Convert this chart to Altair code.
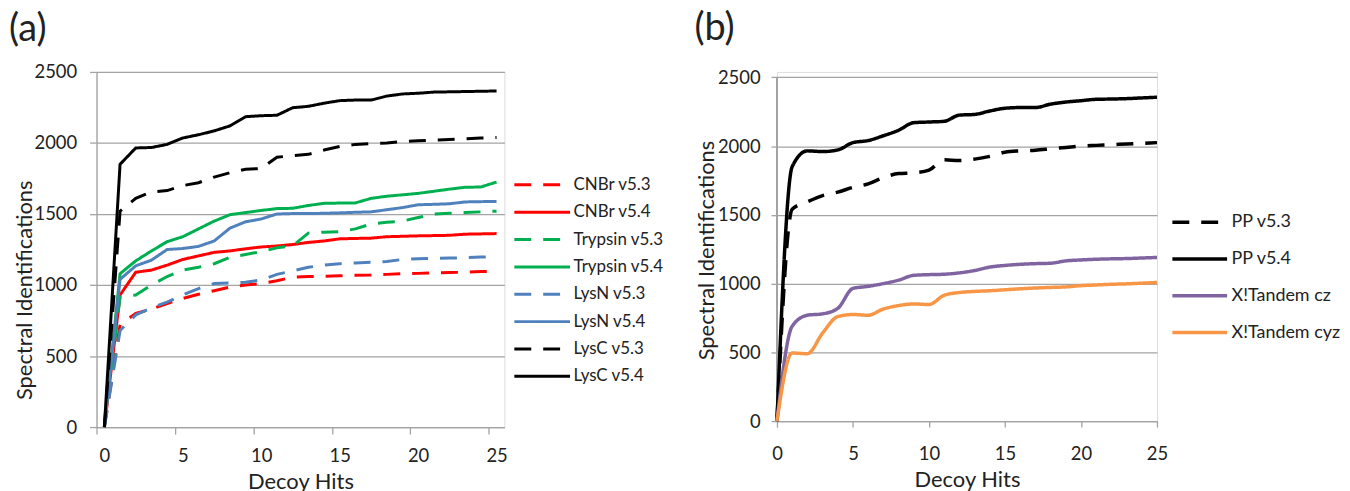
import altair as alt
import pandas as pd

FONT = "Lato"
TXT = "#222222"
GRID = "#a3a3a3"

# ---------------- data ----------------
hits = list(range(26))

series_a = ["CNBr v5.3", "CNBr v5.4", "Trypsin v5.3", "Trypsin v5.4",
            "LysN v5.3", "LysN v5.4", "LysC v5.3", "LysC v5.4"]
colors_a = ["#ff0000", "#ff0000", "#00b050", "#00b050",
            "#4f81bd", "#4f81bd", "#000000", "#000000"]
dash_a = [[17, 12], [1, 0], [17, 12], [1, 0], [17, 12], [1, 0], [17, 12], [1, 0]]

cnbr_53 = [0, 720, 800, 830, 870, 905, 935, 960, 985, 1000, 1010, 1030, 1055, 1060, 1062,
           1065, 1068, 1070, 1075, 1080, 1082, 1085, 1088, 1090, 1095, 1095]
cnbr_54 = [0, 930, 1090, 1105, 1140, 1180, 1205, 1230, 1240, 1255, 1268, 1275, 1285, 1300,
           1310, 1325, 1328, 1330, 1340, 1343, 1346, 1348, 1350, 1358, 1360, 1362]
tryp_53 = [0, 915, 930, 1000, 1060, 1105, 1125, 1150, 1195, 1215, 1235, 1262, 1275, 1365,
           1372, 1375, 1395, 1430, 1442, 1450, 1475, 1500, 1505, 1510, 1515, 1520]
tryp_54 = [0, 1080, 1170, 1240, 1305, 1340, 1395, 1450, 1495, 1510, 1525, 1538, 1540, 1560,
           1575, 1577, 1578, 1610, 1625, 1635, 1645, 1660, 1675, 1688, 1690, 1725]
lysn_53 = [0, 680, 790, 840, 880, 930, 975, 1010, 1015, 1020, 1035, 1075, 1100, 1125, 1140,
           1150, 1155, 1160, 1165, 1180, 1185, 1188, 1190, 1192, 1197, 1200]
lysn_54 = [0, 1040, 1135, 1175, 1250, 1257, 1272, 1310, 1400, 1445, 1465, 1500, 1503, 1503,
           1505, 1508, 1512, 1515, 1530, 1545, 1565, 1568, 1572, 1585, 1587, 1588]
lysc_53 = [0, 1520, 1610, 1655, 1665, 1700, 1720, 1760, 1790, 1815, 1820, 1900, 1910, 1920,
           1950, 1975, 1990, 1995, 2000, 2010, 2015, 2020, 2025, 2030, 2035, 2038]
lysc_54 = [0, 1850, 1965, 1968, 1990, 2035, 2058, 2085, 2120, 2185, 2192, 2195, 2248, 2258,
           2280, 2298, 2302, 2302, 2330, 2345, 2350, 2358, 2360, 2362, 2364, 2366]
values_a = [cnbr_53, cnbr_54, tryp_53, tryp_54, lysn_53, lysn_54, lysc_53, lysc_54]

series_b = ["PP v5.3", "PP v5.4", "X!Tandem cz", "X!Tandem cyz"]
colors_b = ["#000000", "#000000", "#8064a2", "#f79646"]
dash_b = [[17, 12], [1, 0], [1, 0], [1, 0]]

pp_53 = [0, 1540, 1595, 1640, 1665, 1700, 1725, 1770, 1800, 1805, 1825, 1900, 1895, 1905,
         1925, 1955, 1965, 1970, 1980, 1990, 2000, 2005, 2010, 2015, 2020, 2025]
pp_54 = [0, 1850, 1965, 1960, 1972, 2025, 2040, 2075, 2115, 2170, 2175, 2180, 2225, 2230,
         2255, 2275, 2280, 2280, 2305, 2320, 2330, 2340, 2342, 2345, 2350, 2355]
xt_cz = [0, 690, 770, 780, 820, 965, 980, 1000, 1025, 1060, 1065, 1068, 1078, 1095, 1120,
         1132, 1140, 1145, 1148, 1165, 1172, 1177, 1180, 1182, 1186, 1190]
xt_cyz = [0, 495, 490, 640, 760, 775, 770, 815, 840, 852, 848, 915, 935, 943, 948, 955, 962,
          968, 972, 976, 985, 990, 995, 998, 1003, 1008]
values_b = [pp_53, pp_54, xt_cz, xt_cyz]

y_ticks = [0, 500, 1000, 1500, 2000, 2500]
x_ticks = [0, 5, 10, 15, 20, 25]


def long_df(names, vals):
    rows = []
    for i, (n, v) in enumerate(zip(names, vals)):
        for h, y in zip(hits, v):
            rows.append({"series": n, "order": i, "x": h, "y": y})
    return pd.DataFrame(rows)


df_a = long_df(series_a, values_a)
df_b = long_df(series_b, values_b)

axis_common = dict(labelFont=FONT, titleFont=FONT, labelColor=TXT, titleColor=TXT,
                   labelFontSize=18.5, titleFontSize=22, titleFontWeight="normal",
                   domainColor=GRID, tickColor=GRID, gridColor=GRID,
                   domainWidth=1.3, tickWidth=1.3, gridWidth=1.3, labelFlush=False)

# ---------------- panel (a) ----------------
legend_a = alt.Legend(title=None, orient="none", legendX=439.5, legendY=105,
                      symbolType="M-4,0H4", symbolSize=196, symbolStrokeWidth=3,
                      labelFont=FONT, labelFontSize=17, labelColor=TXT,
                      labelOffset=23, rowPadding=9.5, padding=0)

panel_a = alt.Chart(df_a).mark_line(strokeWidth=3, strokeCap="butt").encode(
    x=alt.X("x:Q", scale=alt.Scale(domain=[-0.5, 25.5], nice=False, zero=False),
            axis=alt.Axis(values=x_ticks, grid=False, tickSize=7, tickOffset=-7.9,
                          labelOffset=7.9, labelPadding=13, title="Decoy Hits",
                          titleY=45, titleBaseline="top", format="d", **axis_common)),
    y=alt.Y("y:Q", scale=alt.Scale(domain=[0, 2500], nice=False),
            axis=alt.Axis(values=y_ticks, grid=True, tickSize=7, labelPadding=13,
                          title="Spectral Identifications", titleX=-72.5, titleY=219,
                          titleBaseline="middle", format="d", **axis_common)),
    color=alt.Color("series:N", scale=alt.Scale(domain=series_a, range=colors_a), legend=legend_a),
    strokeDash=alt.StrokeDash("series:N", scale=alt.Scale(domain=series_a, range=dash_a), legend=legend_a),
    order="order:Q",
).properties(
    width=410, height=357,
    title=alt.TitleParams("(a)", anchor="start", frame="group", dx=-88, offset=-24,
                          baseline="bottom", fontSize=38, font=FONT, fontWeight="normal", color=TXT),
)

# ---------------- panel (b) ----------------
legend_b = alt.Legend(title=None, orient="none", legendX=416, legendY=142,
                      symbolType="M-4,0H4", symbolSize=189, symbolStrokeWidth=3.5,
                      labelFont=FONT, labelFontSize=18, labelColor=TXT,
                      labelOffset=23, rowPadding=19, padding=0)

lines_b = alt.Chart(df_b).mark_line(strokeWidth=3.5, strokeCap="butt", interpolate="monotone").encode(
    x=alt.X("x:Q", scale=alt.Scale(domain=[0, 25], nice=False, zero=False),
            axis=alt.Axis(values=x_ticks, grid=False, tickSize=6, labelPadding=18,
                          title="Decoy Hits", titleY=49, titleBaseline="top", format="d",
                          **axis_common)),
    y=alt.Y("y:Q", scale=alt.Scale(domain=[0, 2539], nice=False),
            axis=alt.Axis(values=y_ticks, grid=True, tickSize=6, labelPadding=11, domain=False,
                          title="Spectral Identifications", titleX=-71, titleY=179,
                          titleBaseline="middle", format="d", **axis_common)),
    color=alt.Color("series:N", scale=alt.Scale(domain=series_b, range=colors_b), legend=legend_b),
    strokeDash=alt.StrokeDash("series:N", scale=alt.Scale(domain=series_b, range=dash_b), legend=legend_b),
    order="order:Q",
)

axis_line_b = alt.Chart(df_b).mark_rule(color=GRID, strokeWidth=1.3).encode(
    x=alt.datum(0), y=alt.datum(0), y2=alt.datum(2500)
)

panel_b = alt.layer(axis_line_b, lines_b).properties(
    width=382, height=351,
    title=alt.TitleParams("(b)", anchor="start", frame="group", dx=-83, offset=-18,
                          baseline="bottom", fontSize=38, font=FONT, fontWeight="normal", color=TXT),
)

chart = alt.hconcat(panel_a, panel_b, spacing=274, bounds="flush").resolve_scale(
    x="independent", y="independent", color="independent", strokeDash="independent"
).resolve_legend(color="independent", strokeDash="independent").properties(
    padding={"left": 0, "top": 0, "right": 0, "bottom": 0}
).configure_view(stroke=None).configure(background="white")

chart.save("out.html", embed_options={"renderer": "svg", "actions": False})
